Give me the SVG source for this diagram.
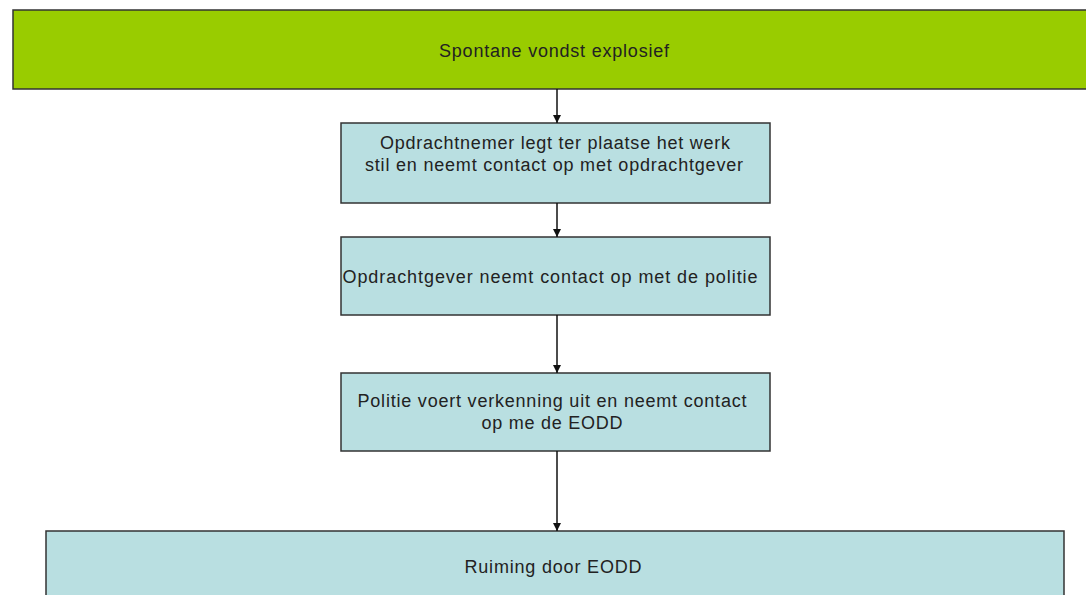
<svg xmlns="http://www.w3.org/2000/svg" width="1086" height="595" viewBox="0 0 1086 595">
<style>
.box{stroke:#333;stroke-width:1.5}
.green{fill:#99cc00}
.blue{fill:#b9dfe1}
text{font-family:"Liberation Sans",Arial,sans-serif;font-size:18px;fill:#222;text-anchor:middle}
.conn{stroke:#111;stroke-width:1.5;fill:none}
</style>
<defs>
<marker id="arr" viewBox="0 0 10 10" refX="10" refY="5" markerWidth="8" markerHeight="8" markerUnits="userSpaceOnUse" orient="auto">
<path d="M0,0 L10,5 L0,10 z" fill="#111"/>
</marker>
</defs>
<rect width="1086" height="595" fill="#fff"/>
<g id="n1"><rect class="box green" x="13" y="10" width="1080" height="79"/><text x="554" y="57" textLength="230" lengthAdjust="spacing">Spontane vondst explosief</text></g>
<g id="n2"><rect class="box blue" x="341" y="123" width="429" height="80"/><text x="555" y="149" textLength="350" lengthAdjust="spacing">Opdrachtnemer legt ter plaatse het werk</text><text x="554" y="171" textLength="378" lengthAdjust="spacing">stil en neemt contact op met opdrachtgever</text></g>
<g id="n3"><rect class="box blue" x="341" y="237" width="429" height="78"/><text x="550" y="283" textLength="415" lengthAdjust="spacing">Opdrachtgever neemt contact op met de politie</text></g>
<g id="n4"><rect class="box blue" x="341" y="373" width="429" height="78"/><text x="552" y="407" textLength="389" lengthAdjust="spacing">Politie voert verkenning uit en neemt contact</text><text x="552" y="429" textLength="141" lengthAdjust="spacing">op me de EODD</text></g>
<g id="n5"><rect class="box blue" x="46" y="531" width="1018" height="80"/><text x="553" y="573" textLength="177" lengthAdjust="spacing">Ruiming door EODD</text></g>
<g id="connectors">
<line class="conn" x1="557" y1="89" x2="557" y2="123" marker-end="url(#arr)"/>
<line class="conn" x1="557" y1="203" x2="557" y2="237" marker-end="url(#arr)"/>
<line class="conn" x1="557" y1="315" x2="557" y2="373" marker-end="url(#arr)"/>
<line class="conn" x1="557" y1="451" x2="557" y2="531" marker-end="url(#arr)"/>
</g>
</svg>
